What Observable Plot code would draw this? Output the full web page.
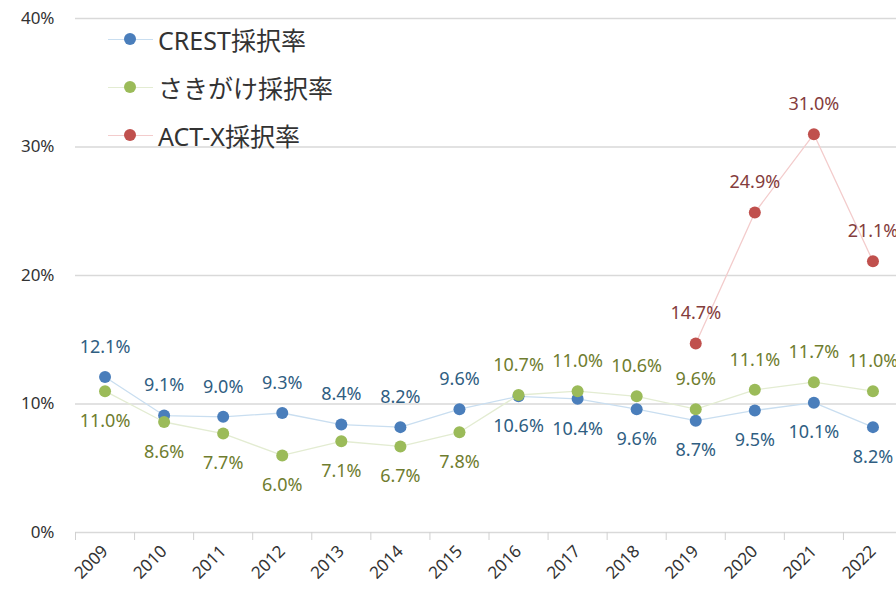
<!DOCTYPE html>
<html><head><meta charset="utf-8">
<script src="https://cdn.jsdelivr.net/npm/d3@7"></script>
<script src="https://cdn.jsdelivr.net/npm/@observablehq/plot@0.6"></script>
<style>
html,body{margin:0;padding:0;background:#fff;overflow:hidden;}
#wrap{position:relative;width:896px;height:592px;overflow:hidden;}
#legend{position:absolute;left:108px;top:15px;font-family:"Noto Sans","Noto Sans CJK JP",sans-serif;font-size:25px;color:#333;}
.li{display:flex;align-items:center;height:48px;}
.sw{position:relative;width:45px;height:12px;margin-right:5px;}
.sw .ln{position:absolute;left:0;right:0;top:5.5px;height:1px;}
.sw .dt{position:absolute;left:16px;top:0;width:12px;height:12px;border-radius:50%;}
</style></head>
<body><div id="wrap"><div id="legend"></div></div>
<script>
const years = [2009,2010,2011,2012,2013,2014,2015,2016,2017,2018,2019,2020,2021,2022];
const crest = [12.1,9.1,9.0,9.3,8.4,8.2,9.6,10.6,10.4,9.6,8.7,9.5,10.1,8.2];
const sakigake = [11.0,8.6,7.7,6.0,7.1,6.7,7.8,10.7,11.0,10.6,9.6,11.1,11.7,11.0];
const actxYears = [2019,2020,2021,2022];
const actx = [14.7,24.9,31.0,21.1];
const yTicks = [0,10,20,30,40];
const seriesNames = ["CREST採択率","さきがけ採択率","ACT-X採択率"];

const crestData = years.map((y,i)=>({year:y,v:crest[i],above:y<2016}));
const sakiData = years.map((y,i)=>({year:y,v:sakigake[i],above:y>=2016}));
const actData = actxYears.map((y,i)=>({year:y,v:actx[i],above:true}));
const boundaries = years.map(y=>y-0.5);

const dotC = ["#4a7ebb","#9bbb59","#c0504d"];
const lineC = ["#c9def0","#e3ecd2","#f3cccc"];
const textC = ["#2f5e82","#6f7d2f","#843c3c"];
const font = "'Noto Sans','Noto Sans CJK JP',sans-serif";
const fmt = v => v.toFixed(1)+"%";

function series(data, k){
  return [
    Plot.line(data,{x:"year",y:"v",stroke:lineC[k],strokeWidth:1.3}),
    Plot.dot(data,{x:"year",y:"v",r:6,fill:dotC[k]}),
    Plot.text(data.filter(d=>d.above),{x:"year",y:"v",text:d=>fmt(d.v),dy:-30,fill:textC[k],fontSize:18}),
    Plot.text(data.filter(d=>!d.above),{x:"year",y:"v",text:d=>fmt(d.v),dy:30,fill:textC[k],fontSize:18})
  ];
}

const chart = Plot.plot({
  width:902, height:592,
  marginLeft:75, marginRight:0, marginTop:18, marginBottom:60,
  style:{fontFamily:font, maxWidth:"none", overflow:"visible"},
  x:{domain:[2008.5,2022.5], label:null},
  y:{domain:[0,40], label:null},
  marks:[
    Plot.ruleY(yTicks,{y:d=>d,stroke:"#d9d9d9",strokeWidth:1.3}),
    Plot.axisY({ticks:yTicks,tickSize:0,tickPadding:21,tickFormat:d=>d+"%",fontSize:17,fill:"#333",label:null}),
    Plot.axisX({ticks:boundaries,tickSize:8,tickFormat:()=>"",stroke:"#d0d0d0",label:null}),
    Plot.axisX({ticks:years,tickSize:0,tickPadding:16,tickRotate:-45,tickFormat:d=>String(d),fontSize:17,fill:"#333",label:null}),
    ...series(crestData,0),
    ...series(sakiData,1),
    ...series(actData,2)
  ]
});
document.getElementById("wrap").appendChild(chart);

const lg = document.getElementById("legend");
seriesNames.forEach((n,k)=>{
  const row = document.createElement("div"); row.className="li";
  row.innerHTML = `<div class="sw"><div class="ln" style="background:${lineC[k]}"></div><div class="dt" style="background:${dotC[k]}"></div></div><span>${n}</span>`;
  lg.appendChild(row);
});
</script></body></html>
